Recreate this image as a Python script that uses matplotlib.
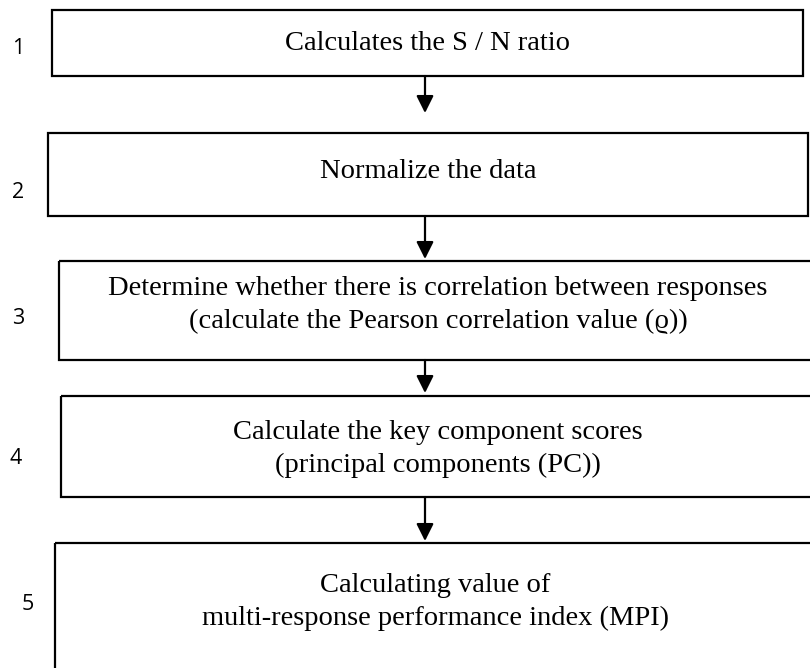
import matplotlib.pyplot as plt
from matplotlib.patches import Rectangle

# Шаги алгоритма
step_numbers = ["1", "2", "3", "4", "5"]
step_texts = [
    "Calculates the S / N ratio",
    "Normalize the data",
    "Determine whether there is correlation between responses\n(calculate the Pearson correlation value (ϱ))",
    "Calculate the key component scores\n(principal components (PC))",
    "Calculating value of\nmulti-response performance index (MPI)",
]

# Геометрия блоков (пиксели, ось y вниз)
box_left = [52, 48, 59, 61, 55]
box_right = [803, 808, 817, 815, 815]
box_top = [10, 133, 261, 396, 543]
box_bottom = [76, 216, 360, 497, 680]
label_x = [18, 18, 18, 16, 28]
label_y = [48, 193, 318, 459, 605]
text_y = [44, 171, 305, 449, 602]
arrow_x = 425
arrow_tip = [113, 259, 393, 541]

W, H = 810, 668
fig = plt.figure(figsize=(W / 100, H / 100), dpi=100)
ax = fig.add_axes([0, 0, 1, 1])
ax.set_xlim(0, W)
ax.set_ylim(H, 0)
ax.axis("off")

serif = ["Liberation Serif", "DejaVu Serif"]

for i in range(len(step_texts)):
    ax.add_patch(Rectangle((box_left[i], box_top[i]),
                           box_right[i] - box_left[i], box_bottom[i] - box_top[i],
                           fill=False, edgecolor="black", lw=1.6))
    ax.text(label_x[i], label_y[i], step_numbers[i], fontsize=15.5, family="Open Sans",
            ha="center", va="center")
    ax.text((box_left[i] + box_right[i]) / 2, text_y[i], step_texts[i],
            fontsize=20.5, family=serif, ha="center", va="center", linespacing=1.42)

# Стрелки между блоками
for i in range(len(arrow_tip)):
    ax.annotate("", xy=(arrow_x, arrow_tip[i]), xytext=(arrow_x, box_bottom[i]),
                arrowprops=dict(arrowstyle="-|>", color="black", lw=1.6,
                                mutation_scale=26, shrinkA=0, shrinkB=0))

fig.savefig("out.png", dpi=100)
